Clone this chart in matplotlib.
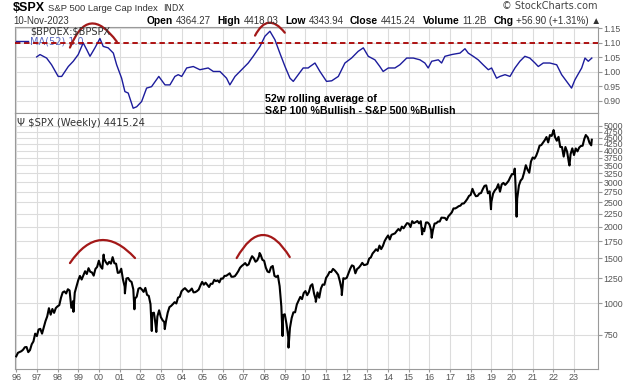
import numpy as np
import pandas as pd
import matplotlib
matplotlib.use('Agg')
import matplotlib.pyplot as plt
from matplotlib.patches import FancyArrowPatch
from matplotlib.ticker import FixedLocator, FixedFormatter, NullLocator

plt.rcParams['font.family'] = ['Liberation Sans', 'DejaVu Sans']

# top panel: $BPOEX:$BPSPX, 52 week MA
ratio_dates = [1996.99, 1997.15, 1997.47, 1997.71, 1998.03, 1998.20, 1998.52, 1998.76,
               1999.00, 1999.24, 1999.41, 1999.57, 1999.81, 2000.05, 2000.21, 2000.45,
               2000.70, 2000.86, 2001.10, 2001.26, 2001.42, 2001.66, 2001.83, 2002.07,
               2002.31, 2002.55, 2002.90, 2003.20, 2003.44, 2003.68, 2003.84, 2004.01,
               2004.25, 2004.57, 2004.89, 2005.29, 2005.54, 2005.86, 2006.18, 2006.34,
               2006.59, 2006.91, 2007.23, 2007.47, 2007.80, 2008.04, 2008.28, 2008.52,
               2008.76, 2009.01, 2009.25, 2009.41, 2009.65, 2009.89, 2010.13, 2010.22,
               2010.46, 2010.70, 2011.02, 2011.27, 2011.59, 2011.91, 2012.23, 2012.55,
               2012.80, 2013.04, 2013.36, 2013.60, 2013.76, 2014.01, 2014.33, 2014.57,
               2014.90, 2015.22, 2015.54, 2015.78, 2015.94, 2016.11, 2016.43, 2016.59,
               2016.75, 2017.08, 2017.23, 2017.48, 2017.72, 2017.88, 2018.12, 2018.36,
               2018.60, 2018.85, 2019.01, 2019.25, 2019.41, 2019.66, 2019.90, 2020.14,
               2020.38, 2020.62, 2020.86, 2021.11, 2021.27, 2021.51, 2021.83, 2022.16,
               2022.40, 2022.64, 2022.88, 2023.04, 2023.20, 2023.37, 2023.53, 2023.69,
               2023.86]
ratio_vals = [1.051, 1.059, 1.047, 1.024, 0.984, 0.984, 1.018, 1.036,
              1.059, 1.099, 1.076, 1.053, 1.082, 1.114, 1.087, 1.082,
              1.064, 1.024, 0.978, 0.932, 0.927, 0.875, 0.880, 0.898,
              0.944, 0.949, 0.984, 0.955, 0.955, 0.984, 0.990, 0.984,
              1.013, 1.018, 1.007, 1.013, 1.001, 1.001, 0.978, 0.955,
              0.984, 1.007, 1.030, 1.053, 1.087, 1.122, 1.139, 1.110,
              1.064, 1.018, 0.978, 0.967, 0.990, 1.013, 1.013, 1.018,
              1.030, 1.001, 0.967, 0.969, 0.984, 1.030, 1.047, 1.070,
              1.082, 1.053, 1.041, 1.018, 1.001, 1.013, 1.013, 1.024,
              1.047, 1.047, 1.041, 1.030, 1.013, 1.036, 1.041, 1.030,
              1.053, 1.059, 1.061, 1.064, 1.079, 1.064, 1.053, 1.041,
              1.024, 1.007, 1.013, 0.978, 0.984, 0.990, 0.984, 1.013,
              1.036, 1.053, 1.047, 1.030, 1.018, 1.030, 1.030, 1.024,
              0.990, 0.967, 0.944, 0.972, 0.992, 1.013, 1.047, 1.036,
              1.047]

# S&P 500 monthly closes, Dec 1995 .. Oct 2023
spx_close = [615.9,
    636.0, 640.4, 645.5, 654.2, 669.1, 670.6, 639.9, 652.0, 687.3, 705.3, 757.0, 740.7,
    786.2, 790.8, 757.1, 801.3, 848.3, 885.1, 954.3, 899.5, 947.3, 914.6, 955.4, 970.4,
    980.3, 1049.3, 1101.8, 1111.8, 1090.8, 1133.8, 1120.7, 957.3, 1017.0, 1098.7, 1163.6, 1229.2,
    1279.6, 1238.3, 1286.4, 1335.2, 1301.8, 1372.7, 1328.7, 1320.4, 1282.7, 1362.9, 1389.0, 1469.3,
    1394.5, 1366.4, 1498.6, 1452.4, 1420.6, 1454.6, 1430.8, 1517.7, 1436.5, 1429.4, 1315.2, 1320.3,
    1366.0, 1239.9, 1160.3, 1249.5, 1255.8, 1224.4, 1211.2, 1133.6, 1040.9, 1059.8, 1139.5, 1148.1,
    1130.2, 1106.7, 1147.4, 1076.9, 1067.1, 989.8, 911.6, 916.1, 815.3, 885.8, 936.3, 879.8,
    855.7, 841.2, 848.2, 916.9, 963.6, 974.5, 990.3, 1008.0, 996.0, 1050.7, 1058.2, 1111.9,
    1131.1, 1144.9, 1126.2, 1107.3, 1120.7, 1140.8, 1101.7, 1104.2, 1114.6, 1130.2, 1173.8, 1211.9,
    1181.3, 1203.6, 1180.6, 1156.9, 1191.5, 1191.3, 1234.2, 1220.3, 1228.8, 1207.0, 1249.5, 1248.3,
    1280.1, 1280.7, 1294.9, 1310.6, 1270.1, 1270.2, 1276.7, 1303.8, 1335.9, 1377.9, 1400.6, 1418.3,
    1438.2, 1406.8, 1420.9, 1482.4, 1530.6, 1503.4, 1455.3, 1474.0, 1526.8, 1549.4, 1481.1, 1468.4,
    1378.6, 1330.6, 1322.7, 1385.6, 1400.4, 1280.0, 1267.4, 1282.8, 1166.4, 968.8, 896.2, 903.3,
    825.9, 735.1, 797.9, 872.8, 919.1, 919.3, 987.5, 1020.6, 1057.1, 1036.2, 1095.6, 1115.1,
    1073.9, 1104.5, 1169.4, 1186.7, 1089.4, 1030.7, 1101.6, 1049.3, 1141.2, 1183.3, 1180.6, 1257.6,
    1286.1, 1327.2, 1325.8, 1363.6, 1345.2, 1320.6, 1292.3, 1218.9, 1131.4, 1253.3, 1247.0, 1257.6,
    1312.4, 1365.7, 1408.5, 1397.9, 1310.3, 1362.2, 1379.3, 1406.6, 1440.7, 1412.2, 1416.2, 1426.2,
    1498.1, 1514.7, 1569.2, 1597.6, 1630.7, 1606.3, 1685.7, 1633.0, 1681.6, 1756.5, 1805.8, 1848.4,
    1782.6, 1859.5, 1872.3, 1884.0, 1923.6, 1960.2, 1930.7, 2003.4, 1972.3, 2018.1, 2067.6, 2058.9,
    1995.0, 2104.5, 2067.9, 2085.5, 2107.4, 2063.1, 2103.8, 1972.2, 1920.0, 2079.4, 2080.4, 2043.9,
    1940.2, 1932.2, 2059.7, 2065.3, 2097.0, 2098.9, 2173.6, 2171.0, 2168.3, 2126.2, 2198.8, 2238.8,
    2278.9, 2363.6, 2362.7, 2384.2, 2411.8, 2423.4, 2470.3, 2471.7, 2519.4, 2575.3, 2647.6, 2673.6,
    2823.8, 2713.8, 2640.9, 2648.1, 2705.3, 2718.4, 2816.3, 2901.5, 2914.0, 2711.7, 2760.2, 2506.9,
    2704.1, 2784.5, 2834.4, 2945.8, 2752.1, 2941.8, 2980.4, 2926.5, 2976.7, 3037.6, 3141.0, 3230.8,
    3225.5, 2954.2, 2584.6, 2912.4, 3044.3, 3100.3, 3271.1, 3500.3, 3363.0, 3270.0, 3621.6, 3756.1,
    3714.2, 3811.2, 3972.9, 4181.2, 4204.1, 4297.5, 4395.3, 4522.7, 4307.5, 4605.4, 4567.0, 4766.2,
    4515.6, 4373.9, 4530.4, 4131.9, 4132.2, 3785.4, 4130.3, 3955.0, 3585.6, 3872.0, 4080.1, 3839.5,
    4076.6, 3970.2, 4109.3, 4169.5, 4179.8, 4450.4, 4589.0, 4507.7, 4288.1, 4193.8]
last_date = 2023.86
last_close = 4415.24

# weekly highs / lows that stick out of the monthly closes
spx_ext_dates = [1998.77, 2000.23, 2001.26, 2001.72, 2002.56, 2002.78, 2003.19, 2007.78,
                 2008.89, 2009.18, 2010.50, 2011.76, 2015.65, 2016.11, 2018.98, 2020.13,
                 2020.22, 2022.01, 2022.78, 2023.57]
spx_ext_vals = [923.3, 1552.9, 1092.0, 944.8, 775.7, 768.6, 788.9, 1576.1,
                741.0, 666.8, 1010.9, 1074.8, 1867.0, 1810.1, 2346.6, 3393.5,
                2191.9, 4818.6, 3491.6, 4607.1]

ratio_ticks = [0.90, 0.95, 1.00, 1.05, 1.10, 1.15]
spx_ticks = [750, 1000, 1250, 1500, 1750, 2000, 2250, 2500, 2750, 3000, 3250,
             3500, 3750, 4000, 4250, 4500, 4750, 5000]
years = list(range(1996, 2024))

months = pd.date_range('1995-12-31', periods=len(spx_close), freq='ME')
mdates = months.year + months.month / 12.0 - 1e-3
d = np.concatenate([mdates, spx_ext_dates, [last_date]])
v = np.concatenate([spx_close, spx_ext_vals, [last_close]])
order = np.argsort(d)
spx_d, spx_v = d[order], v[order]

W, H = 638, 384
fig = plt.figure(figsize=(W / 100, H / 100), dpi=100)


def box(l, t, r, b):
    return [l / W, 1 - b / H, (r - l) / W, (b - t) / H]


def ftext(x, y, s, **kw):
    return fig.text(x / W, 1 - y / H, s, **kw)


ax1 = fig.add_axes(box(15, 27, 598, 113))
ax2 = fig.add_axes(box(15, 113, 598, 369))

gridc = '#dcdcdc'
spinec = '#9a9a9a'
labc = '#555555'

for ax in (ax1, ax2):
    ax.set_xlim(1995.94, 2024.16)
    ax.xaxis.set_major_locator(FixedLocator(years))
    ax.grid(True, color=gridc, lw=0.8)
    ax.set_axisbelow(True)
    for s in ax.spines.values():
        s.set_color(spinec)
        s.set_linewidth(0.8)
    ax.yaxis.tick_right()
    ax.tick_params(axis='y', direction='out', length=3, color=spinec,
                   labelsize=6.3, labelcolor=labc, pad=1)

# ratio panel
ax1.plot(ratio_dates, ratio_vals, color='#1c1c9c', lw=1.0, zorder=3)
ax1.axhline(1.10, color='#a80000', lw=1.3, ls=(0, (3, 2)), zorder=4)
ax1.set_ylim(0.8586, 1.1535)
ax1.yaxis.set_major_locator(FixedLocator(ratio_ticks))
ax1.yaxis.set_major_formatter(FixedFormatter(['%.2f' % t for t in ratio_ticks]))
ax1.tick_params(axis='x', length=0, labelbottom=False)

# price panel
ax2.plot(spx_d, spx_v, color='black', lw=1.5, zorder=3)
ax2.set_yscale('log')
ax2.set_ylim(549, 5627)
ax2.yaxis.set_major_locator(FixedLocator(spx_ticks))
ax2.yaxis.set_major_formatter(FixedFormatter([str(t) for t in spx_ticks]))
ax2.yaxis.set_minor_locator(NullLocator())
ax2.set_xticklabels(['%02d' % (y % 100) for y in years])
ax2.tick_params(axis='x', direction='out', length=2, color=spinec,
                labelsize=6.5, labelcolor=labc, pad=1)

# red arcs over the tops
arc_c = '#a31818'
for ax, arcs in ((ax1, [((1998.60, 1.083), (2000.87, 1.103), -0.9),
                        ((2007.56, 1.124), (2009.00, 1.134), -0.77)]),
                 (ax2, [((1998.60, 1438), (2001.75, 1505), -0.63),
                        ((2006.67, 1505), (2009.24, 1519), -0.85)])):
    for a, b, rad in arcs:
        p = FancyArrowPatch(a, b, connectionstyle='arc3,rad=%s' % rad,
                            arrowstyle='-', color=arc_c, lw=1.6,
                            shrinkA=0, shrinkB=0, clip_on=False, zorder=6)
        ax.add_patch(p)

# legends inside panels
ftext(30, 35, r'\$BPOEX:\$BPSPX', fontsize=7, color='#333333',
      family=['DejaVu Sans'], va='baseline')
fig.add_artist(plt.Line2D([16 / W, 28 / W], [1 - 41 / H, 1 - 41 / H],
                          color='#1c1c9c', lw=1.0))
ax1.text(30 / W, 1 - 41 / H, 'MA(52) 1.0', transform=fig.transFigure,
         fontsize=7, color='#5a68c0', family=['DejaVu Sans'], va='center', zorder=2)
ftext(17, 123, r'Ψ \$SPX (Weekly) 4415.24', fontsize=7.2, color='#333333',
      family=['DejaVu Sans'], va='center')

ftext(265, 102, '52w rolling average of', fontsize=7.7, weight='bold', va='baseline')
ftext(265, 114, 'S&P 100 %Bullish - S&P 500 %Bullish', fontsize=7.7,
      weight='bold', va='baseline')

# header
ftext(13, 11, r'\$SPX', fontsize=9, weight='bold', va='baseline')
ftext(48, 11, 'S&P 500 Large Cap Index', fontsize=6.8, color='#333333', va='baseline')
ftext(163, 11, 'INDX', fontsize=6, color='#333333', family=['DejaVu Sans'], va='baseline')
ftext(597, 9, '© StockCharts.com', fontsize=7, color='#444444', ha='right',
      va='baseline', family=['DejaVu Sans'])

ftext(13, 24, '10-Nov-2023', fontsize=6.9, color='#333333', va='baseline')
header = [('Open', 'bold'), ('4364.27', 'normal'), ('High', 'bold'), ('4418.03', 'normal'),
          ('Low', 'bold'), ('4343.94', 'normal'), ('Close', 'bold'), ('4415.24', 'normal'),
          ('Volume', 'bold'), ('11.2B', 'normal'), ('Chg', 'bold'),
          ('+56.90 (+1.31%) ▲', 'normal')]
renderer = fig.canvas.get_renderer()
x = 147
for s, w in header:
    t = ftext(x, 24, s, fontsize=7.4 if w == 'bold' else 7.0, weight=w,
              color='black' if w == 'bold' else '#333333', va='baseline')
    bb = t.get_window_extent(renderer)
    x = bb.x1 + (3 if w == 'bold' else 6.5)

fig.savefig('out.png', dpi=100)
